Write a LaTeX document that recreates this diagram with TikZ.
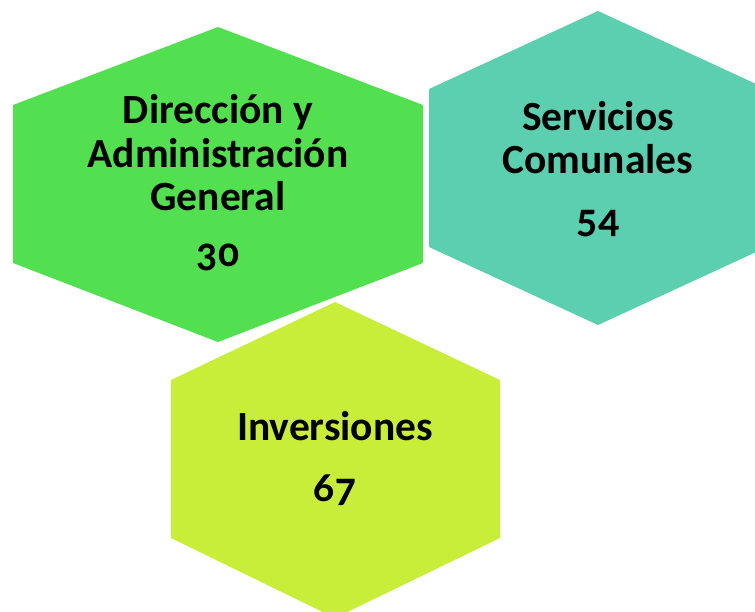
\documentclass[tikz,border=0pt]{standalone}
\usepackage{fontspec}
\setmainfont{Carlito}[Numbers=OldStyle]
\definecolor{hexgreen}{HTML}{52E050}
\definecolor{hexteal}{HTML}{5CCFB0}
\definecolor{hexlime}{HTML}{C8EE3A}
\tikzset{
  lbl/.style={anchor=base, font=\bfseries\fontsize{41.5}{44}\selectfont, text=black, inner sep=0pt},
}
\begin{document}
\begin{tikzpicture}[x=1pt,y=-1pt]
\useasboundingbox (0,0) rectangle (755,611);
\clip (0,0) rectangle (755,611);
% hexagons
\fill[hexgreen] (218,27) -- (423,105) -- (423,263) -- (218,342) -- (13,263) -- (13,105) -- cycle;
\fill[hexteal] (598,11) -- (767,89) -- (767,247) -- (598,325) -- (429,247) -- (429,89) -- cycle;
\fill[hexlime] (335,302) -- (500,380) -- (500,538) -- (335,618) -- (171,538) -- (171,380) -- cycle;
% texts
\node[lbl] (d1) at (218,123) {Dirección y};
\node[lbl] (d2) at (218,167) {Administración};
\node[lbl] (d3) at (218,210) {General};
\node[lbl] (d4) at (218,266) {30};
\node[lbl] (s1) at (598,130) {Servicios};
\node[lbl] (s2) at (598,173) {Comunales};
\node[lbl] (s3) at (598,232) {54};
\node[lbl] (i1) at (335,440) {Inversiones};
\node[lbl] (i2) at (335,501) {67};
\end{tikzpicture}
\end{document}
